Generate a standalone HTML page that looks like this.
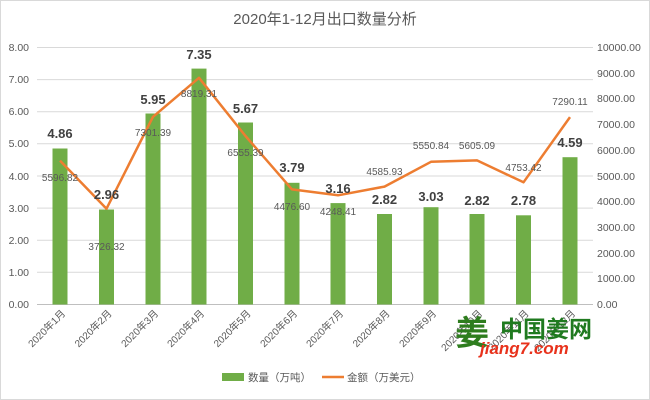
<!DOCTYPE html>
<html><head><meta charset="utf-8"><style>
body{margin:0;background:#fff;}
svg{display:block;font-family:"Liberation Sans","Noto Sans CJK SC",sans-serif;}
</style></head><body>
<svg width="650" height="400" viewBox="0 0 650 400">
<rect x="0.5" y="0.5" width="649" height="399" fill="#fff" stroke="#d9d9d9"/>
<text x="325" y="24" text-anchor="middle" font-size="15" fill="#595959">2020年1-12月出口数量分析</text>
<g stroke="#d9d9d9" stroke-width="1">
<line x1="37" x2="593" y1="47.5" y2="47.5"/><line x1="37" x2="593" y1="79.6" y2="79.6"/><line x1="37" x2="593" y1="111.7" y2="111.7"/><line x1="37" x2="593" y1="143.8" y2="143.8"/><line x1="37" x2="593" y1="176" y2="176"/><line x1="37" x2="593" y1="208.1" y2="208.1"/><line x1="37" x2="593" y1="240.2" y2="240.2"/><line x1="37" x2="593" y1="272.3" y2="272.3"/>
<line x1="37" x2="593" y1="304.5" y2="304.5" stroke="#bfbfbf"/>
</g>
<g font-size="10.5" fill="#595959" text-anchor="end">
<text x="29" y="51">8.00</text><text x="29" y="83">7.00</text><text x="29" y="115">6.00</text><text x="29" y="147">5.00</text><text x="29" y="180">4.00</text><text x="29" y="212">3.00</text><text x="29" y="244">2.00</text><text x="29" y="276">1.00</text><text x="29" y="308">0.00</text>
</g>
<g font-size="10.5" fill="#595959" text-anchor="start">
<text x="597" y="51">10000.00</text><text x="597" y="77">9000.00</text><text x="597" y="102">8000.00</text><text x="597" y="128">7000.00</text><text x="597" y="154">6000.00</text><text x="597" y="180">5000.00</text><text x="597" y="205">4000.00</text><text x="597" y="231">3000.00</text><text x="597" y="257">2000.00</text><text x="597" y="282">1000.00</text><text x="597" y="308">0.00</text>
</g>
<g fill="#70ad47">
<rect x="52.5" y="148.5" width="15" height="156"/>
<rect x="99" y="209.5" width="15" height="95"/>
<rect x="145.5" y="113.5" width="15" height="191"/>
<rect x="191.5" y="68.6" width="15" height="235.9"/>
<rect x="238" y="122.5" width="15" height="182"/>
<rect x="284.5" y="182.8" width="15" height="121.7"/>
<rect x="330.5" y="203.1" width="15" height="101.4"/>
<rect x="377" y="214" width="15" height="90.5"/>
<rect x="423.5" y="207.2" width="15" height="97.3"/>
<rect x="469.5" y="214" width="15" height="90.5"/>
<rect x="516" y="215.3" width="15" height="89.2"/>
<rect x="562.5" y="157.2" width="15" height="147.3"/>
</g>
<polyline fill="none" stroke="#ed7d31" stroke-width="2.5" stroke-linejoin="round" points="60,160.6 106.5,208.7 153,116.8 199,77.8 245.5,136 292,189.4 338,195.3 384.5,186.6 431,161.8 477,160.4 523.5,182.3 570,117.1"/>
<g font-size="13" font-weight="bold" fill="#404040" text-anchor="middle">
<text x="60" y="138">4.86</text><text x="106.5" y="199">2.96</text><text x="153" y="104">5.95</text><text x="199" y="59">7.35</text><text x="245.5" y="113">5.67</text><text x="292" y="172">3.79</text><text x="338" y="193">3.16</text><text x="384.5" y="204">2.82</text><text x="431" y="201">3.03</text><text x="477" y="205">2.82</text><text x="523.5" y="205">2.78</text><text x="570" y="147">4.59</text>
</g>
<g font-size="10" fill="#595959" text-anchor="middle">
<text x="60" y="181">5596.82</text><text x="106.5" y="250">3726.32</text><text x="153" y="136">7301.39</text><text x="199" y="97">8819.31</text><text x="245.5" y="156">6555.39</text><text x="292" y="210">4476.60</text><text x="338" y="215">4248.41</text><text x="384.5" y="175">4585.93</text><text x="431" y="149">5550.84</text><text x="477" y="149">5605.09</text><text x="523.5" y="171">4753.42</text><text x="570" y="105">7290.11</text>
</g>
<g font-size="10" fill="#595959" text-anchor="end">
<text transform="translate(66,314) rotate(-45)">2020年1月</text>
<text transform="translate(112.5,314) rotate(-45)">2020年2月</text>
<text transform="translate(159,314) rotate(-45)">2020年3月</text>
<text transform="translate(205,314) rotate(-45)">2020年4月</text>
<text transform="translate(251.5,314) rotate(-45)">2020年5月</text>
<text transform="translate(298,314) rotate(-45)">2020年6月</text>
<text transform="translate(344,314) rotate(-45)">2020年7月</text>
<text transform="translate(390.5,314) rotate(-45)">2020年8月</text>
<text transform="translate(437,314) rotate(-45)">2020年9月</text>
<text transform="translate(483,314) rotate(-45)">2020年10月</text>
<text transform="translate(529.5,314) rotate(-45)">2020年11月</text>
<text transform="translate(576,314) rotate(-45)">2020年12月</text>
</g>
<text x="455" y="345" font-size="34" font-weight="bold" fill="#2e7d1e">姜</text>
<text x="500" y="337" font-size="23" font-weight="bold" fill="#1f7a1f">中国姜网</text>
<text x="480" y="354" font-size="17" font-weight="bold" font-style="italic" fill="#e8321c">jiang7.com</text>
<rect x="222" y="373" width="22" height="8" fill="#70ad47"/>
<text x="248" y="381" font-size="10.5" fill="#595959">数量（万吨）</text>
<line x1="322" x2="344" y1="377" y2="377" stroke="#ed7d31" stroke-width="2.5"/>
<text x="347" y="381" font-size="10.5" fill="#595959">金额（万美元）</text>
</svg>
</body></html>
